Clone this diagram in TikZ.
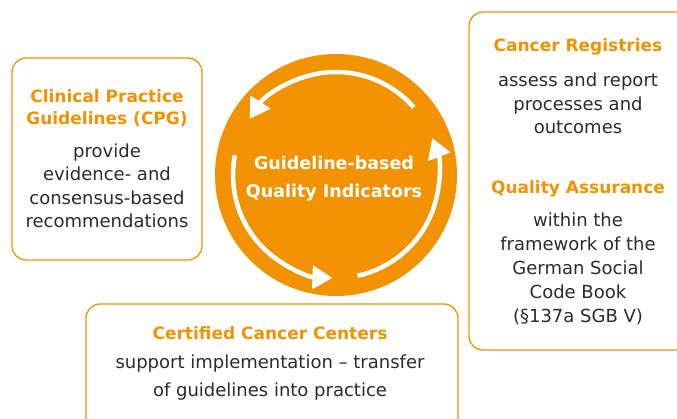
\documentclass[tikz,border=0pt]{standalone}
\usepackage{fontspec}
\setmainfont{DejaVu Sans}
\usetikzlibrary{arrows.meta}
\definecolor{qorange}{HTML}{F39200}
\definecolor{qtext}{HTML}{2B2B2B}
\begin{document}
\begin{tikzpicture}[x=1pt,y=1pt,
  box/.style={draw=qorange,line width=1.3pt,rounded corners=14pt,fill=white},
  ttl/.style={text=qorange,font=\fontsize{17}{22}\selectfont\bfseries,align=center,inner sep=0pt},
  body/.style={text=qtext,font=\fontsize{18}{23.5}\selectfont,align=center,inner sep=0pt},
  cyc/.style={white,line width=4.5pt,-{Triangle[length=20pt,width=23pt]}}]
\useasboundingbox (0,0) rectangle (677,418);
% boxes
\node[box,minimum width=190pt,minimum height=202pt] (cpg) at (107,259) {};
\node[box,minimum width=231pt,minimum height=338pt] (reg) at (584.5,237) {};
\node[box,minimum width=372pt,minimum height=136pt] (ccc) at (272,46) {};
% circle
\node[circle,fill=qorange,minimum size=242pt,inner sep=0pt] (qi) at (336,243) {};
\node[text=white,font=\fontsize{17.5}{28}\selectfont\bfseries,align=center,inner sep=0pt] (qit) at (334,239) {Guideline-based\\Quality Indicators};
% cycle arrows
\coordinate (c) at (336,243);
\draw[cyc] ([shift={(41:103)}]c) arc[start angle=41,end angle=147,radius=103];
\draw[cyc] ([shift={(169:103)}]c) arc[start angle=169,end angle=268,radius=103];
\draw[cyc] ([shift={(282:103)}]c) arc[start angle=282,end angle=381,radius=103];
% texts
\node[ttl] (cpgt) at (107,310) {Clinical Practice\\Guidelines (CPG)};
\node[body] (cpgb) at (107,232) {provide\\evidence- and\\consensus-based\\recommendations};
\node[ttl] (regt) at (578,371) {Cancer Registries};
\node[body] (regb) at (578,314.5) {assess and report\\processes and\\outcomes};
\node[ttl] (qat) at (578,229) {Quality Assurance};
\node[body,font=\fontsize{18}{24}\selectfont] (qab) at (578,149) {within the\\framework of the\\German Social\\Code Book\\(§137a SGB V)};
\node[ttl] (ccct) at (270,85) {Certified Cancer Centers};
\node[body,font=\fontsize{18}{28}\selectfont] (cccb) at (270,40) {support implementation – transfer\\of guidelines into practice};
\end{tikzpicture}
\end{document}
